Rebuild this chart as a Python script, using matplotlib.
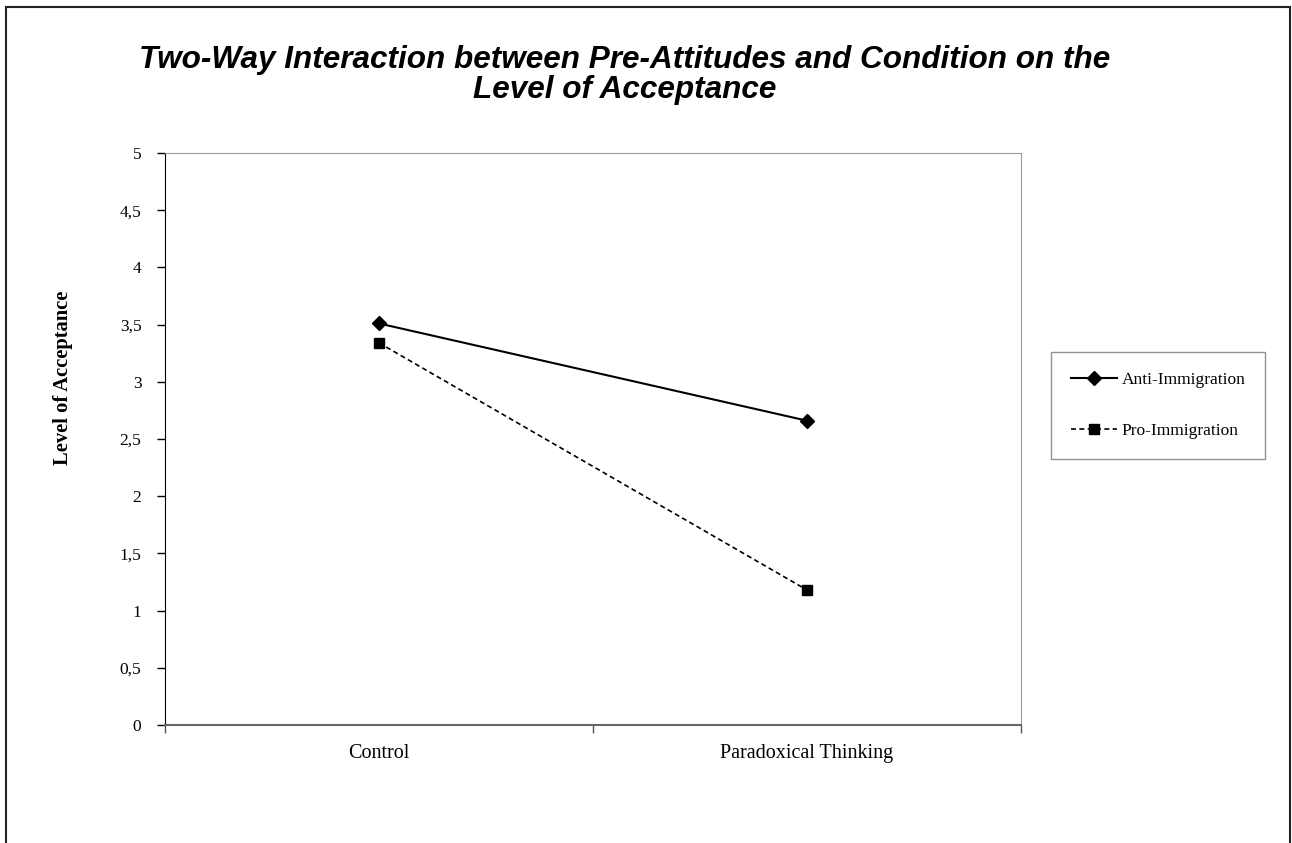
import matplotlib.pyplot as plt
from matplotlib.patches import Rectangle

conditions = ['Control', 'Paradoxical Thinking']
anti_immigration = [3.51, 2.66]
pro_immigration = [3.34, 1.18]
y_ticks = [0, 0.5, 1, 1.5, 2, 2.5, 3, 3.5, 4, 4.5, 5]

fig = plt.figure(figsize=(12.92, 8.43), dpi=100)
ax = fig.add_axes([0.1277, 0.140, 0.6625, 0.6785])

x = range(len(conditions))
ax.plot(x, anti_immigration, color='black', lw=1.5, marker='D', ms=7,
        label='Anti-Immigration')
ax.plot(x, pro_immigration, color='black', lw=1.2, ls=(0, (3, 2)), marker='s',
        ms=7.5, label='Pro-Immigration')

ax.set_xlim(-0.5, 1.5)
ax.set_ylim(0, 5)
ax.set_xticks(list(x))
ax.set_xticklabels(conditions, family='Liberation Serif', fontsize=14.5)
ax.set_xticks([-0.5, 0.5, 1.5], minor=True)
ax.tick_params(axis='x', which='major', length=0, pad=14)
ax.tick_params(axis='x', which='minor', length=6, width=1, color='#555555', direction='out')
ax.set_yticks(y_ticks)
ax.set_yticklabels([('%g' % v).replace('.', ',') for v in y_ticks],
                   family='Liberation Serif', fontsize=12.5)
ax.tick_params(axis='y', length=6, width=1, direction='out', pad=11)

for side in ['top', 'right']:
    ax.spines[side].set_color('#999999')
ax.spines['bottom'].set_color('#666666')
ax.spines['bottom'].set_linewidth(1.5)
ax.spines['left'].set_color('black')

ax.set_ylabel('Level of Acceptance', family='Liberation Serif', fontsize=14.8,
              fontweight='bold')
ax.yaxis.set_label_coords(-0.1075, 0.607)

leg = fig.legend(loc='center', bbox_to_anchor=(0.8964, 0.5190),
                 prop={'family': 'Liberation Serif', 'size': 12.5},
                 numpoints=1, handlelength=2.65, labelspacing=2.0, borderpad=1.15,
                 fancybox=False, edgecolor='#777777', handletextpad=0.25)
leg.get_frame().set_linewidth(1)

fig.text(0.4837, 0.9110, 'Two-Way Interaction between Pre-Attitudes and Condition on the\nLevel of Acceptance',
         ha='center', va='center', family='Liberation Sans', fontsize=22.7,
         fontweight='bold', fontstyle='italic', linespacing=1.0)

fig.patches.append(Rectangle((0.0046, -0.1), 0.9938, 1.0917, transform=fig.transFigure,
                             fill=False, edgecolor='#222222', lw=1.5))

fig.savefig('out.png', dpi=100)
